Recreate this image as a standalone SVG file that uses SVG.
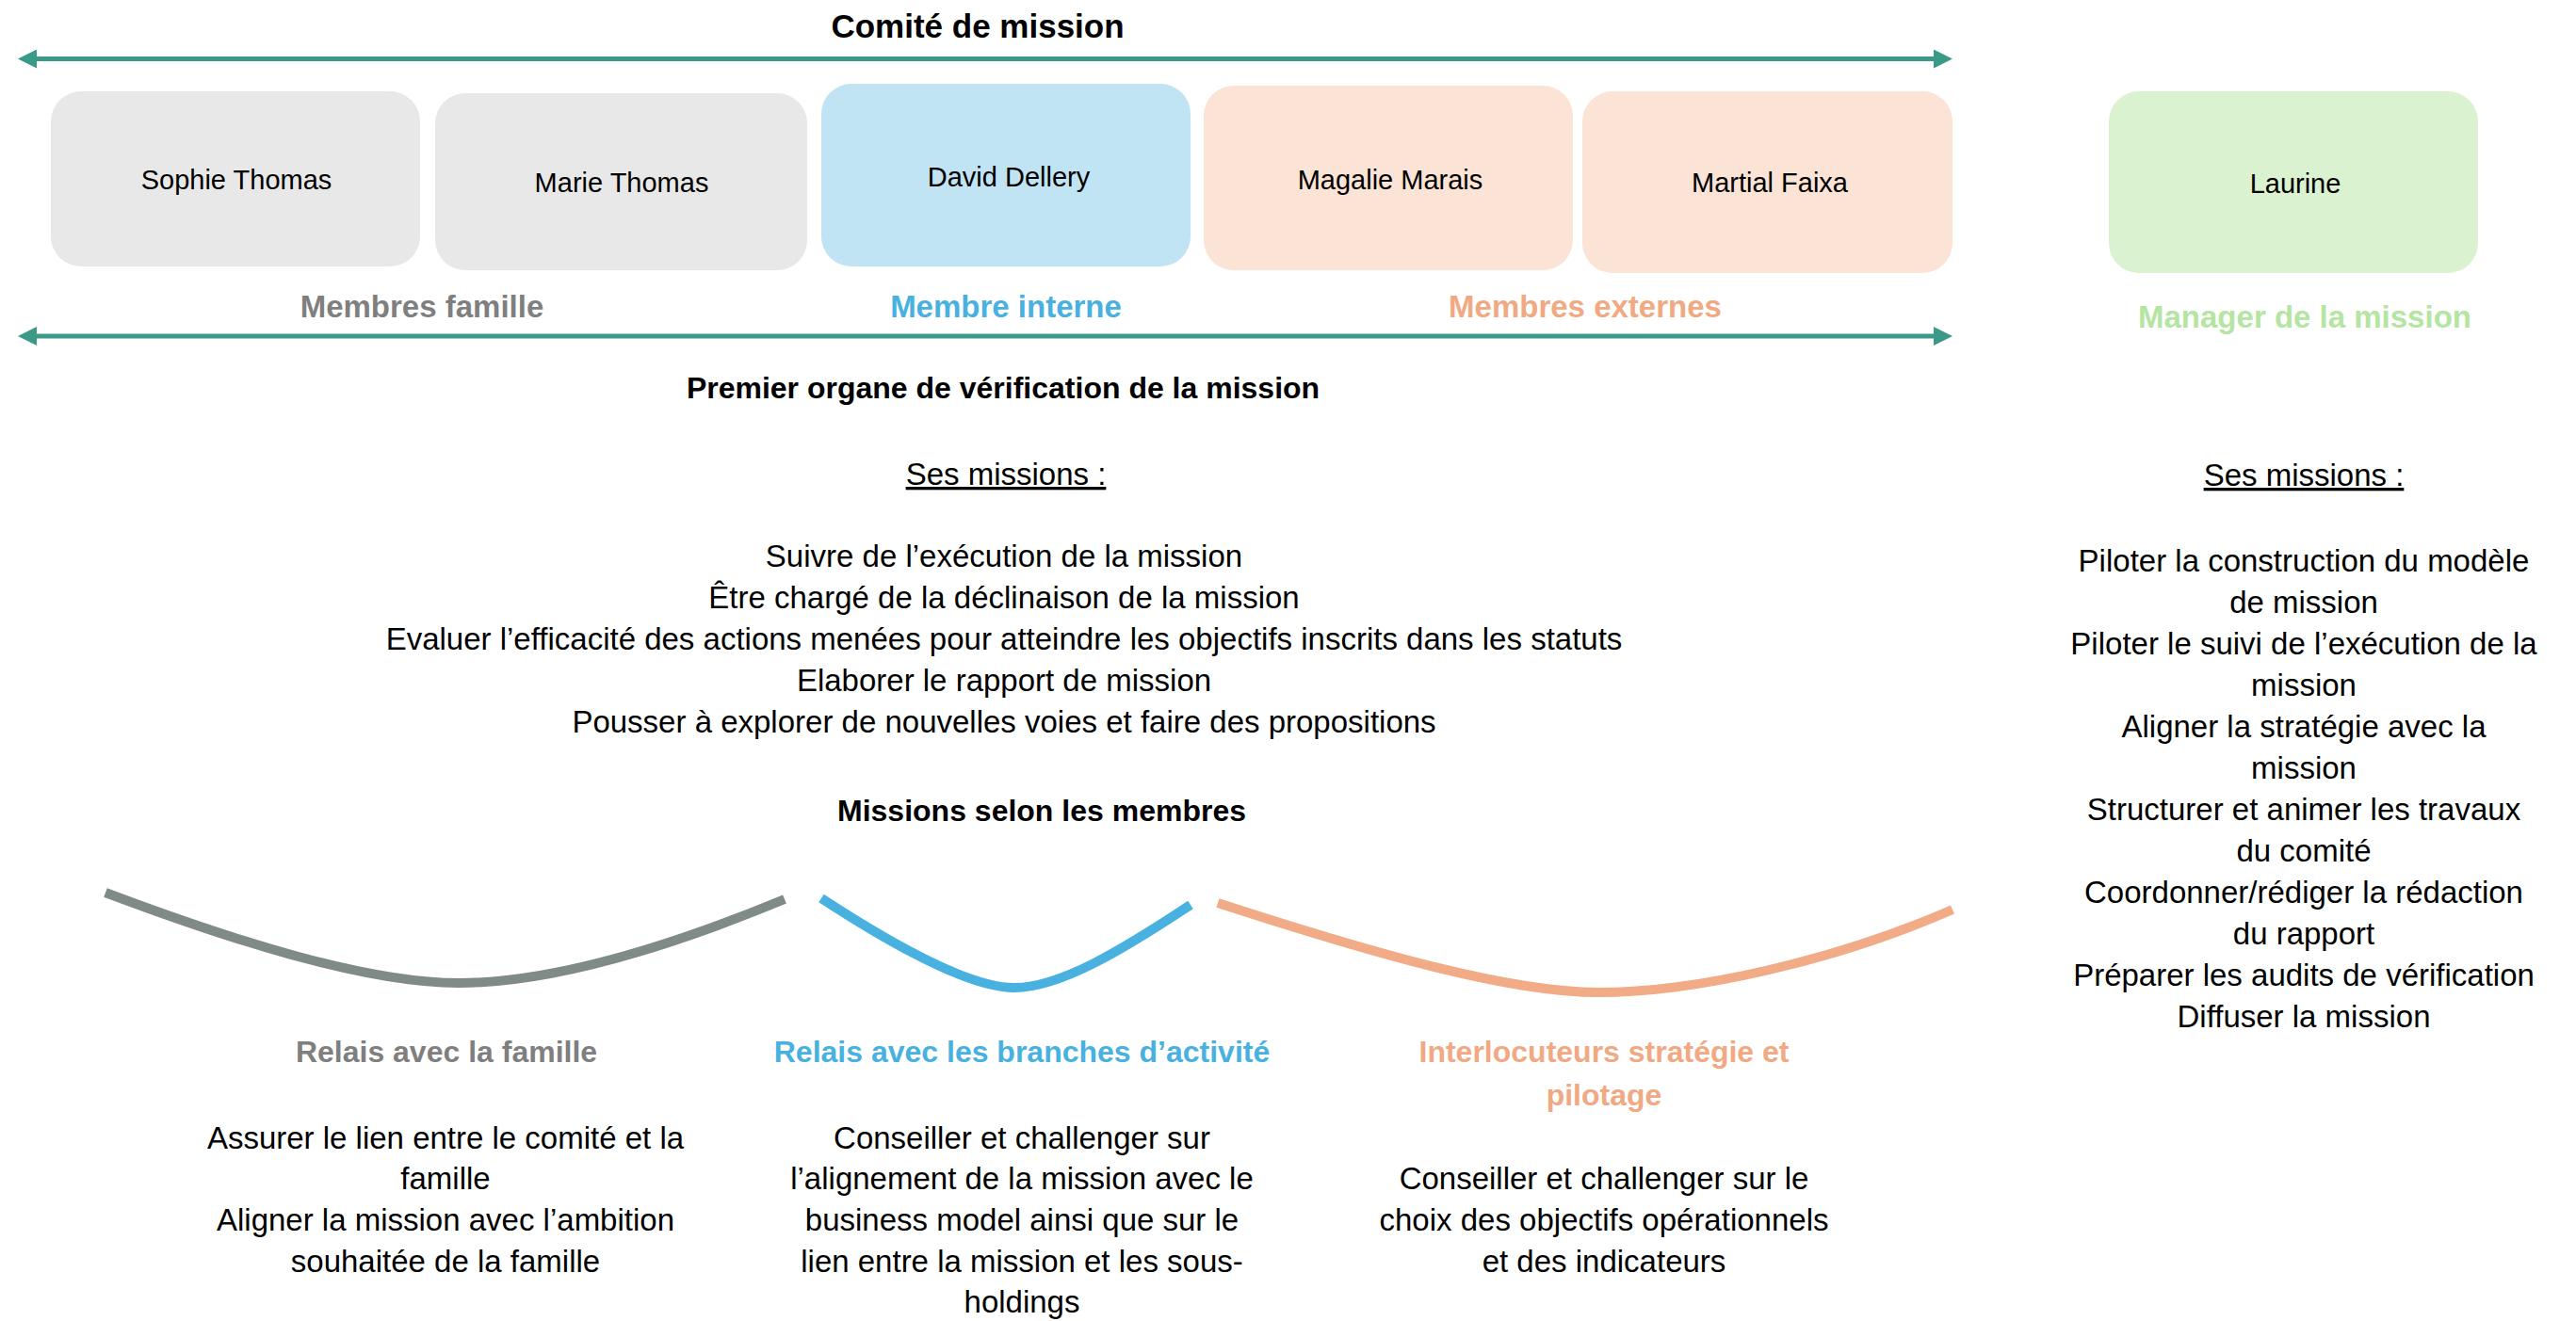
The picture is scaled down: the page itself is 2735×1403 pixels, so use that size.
<svg xmlns="http://www.w3.org/2000/svg" width="2735" height="1403" viewBox="0 0 2735 1403">
  <defs>
    <marker id="arr" viewBox="0 0 20 20" refX="10" refY="10" markerWidth="20" markerHeight="20" markerUnits="userSpaceOnUse" orient="auto-start-reverse">
      <path d="M0,0 L20,10 L0,20 Z" fill="#3b9987"/>
    </marker>
    <style>
      text { font-family: "Liberation Sans", Arial, sans-serif; text-anchor: middle; }
      .name { font-size: 29px; fill: #000; }
      .body { font-size: 33px; fill: #000; }
      .bold { font-size: 32px; font-weight: bold; fill: #000; }
      .title { font-size: 35px; font-weight: bold; fill: #000; }
      .lbl { font-size: 33px; font-weight: bold; }
      .u { text-decoration: underline; }
      .gray { fill: #7f7f7f; }
      .blue { fill: #48b1e0; }
      .orange { fill: #f1a983; }
      .green { fill: #b4e5a2; }
      .box { stroke: none; }
      .arrow { stroke: #3b9987; stroke-width: 5; fill: none; marker-start: url(#arr); marker-end: url(#arr); }
      .curve { fill: none; stroke-width: 10; stroke-linecap: butt; }
    </style>
  </defs>

  <rect x="0" y="0" width="2735" height="1403" fill="#ffffff"/>

  <text class="title" x="1038" y="40">Comité de mission</text>

  <g id="connectors">
    <path class="arrow" d="M29,62.5 L2063,62.5"/>
    <path class="arrow" d="M29,357 L2063,357"/>
  </g>

  <g id="node-sophie">
    <rect class="box" x="54" y="97" width="392" height="186" rx="32" fill="#e8e8e8"/>
    <text class="name" x="251" y="201">Sophie Thomas</text>
  </g>
  <g id="node-marie">
    <rect class="box" x="462" y="99" width="395" height="188" rx="32" fill="#e8e8e8"/>
    <text class="name" x="660" y="204">Marie Thomas</text>
  </g>
  <g id="node-david">
    <rect class="box" x="872" y="89" width="392" height="194" rx="32" fill="#c1e4f5"/>
    <text class="name" x="1071" y="198">David Dellery</text>
  </g>
  <g id="node-magalie">
    <rect class="box" x="1278" y="91" width="392" height="196" rx="32" fill="#fbe3d6"/>
    <text class="name" x="1476" y="201">Magalie Marais</text>
  </g>
  <g id="node-martial">
    <rect class="box" x="1680" y="97" width="393" height="193" rx="32" fill="#fbe3d6"/>
    <text class="name" x="1879" y="204">Martial Faixa</text>
  </g>
  <g id="node-laurine">
    <rect class="box" x="2239" y="97" width="392" height="193" rx="32" fill="#daf2d0"/>
    <text class="name" x="2437" y="205">Laurine</text>
  </g>

  <g id="group-labels">
    <text class="lbl gray" x="448" y="337">Membres famille</text>
    <text class="lbl blue" x="1068" y="337">Membre interne</text>
    <text class="lbl orange" x="1683" y="337">Membres externes</text>
    <text class="lbl green" x="2447" y="348">Manager de la mission</text>
  </g>

  <g id="comite-missions">
    <text class="bold" x="1065" y="423">Premier organe de vérification de la mission</text>
    <text class="body u" x="1068" y="515">Ses missions :</text>
    <text class="body" x="1066" y="602">Suivre de l’exécution de la mission</text>
    <text class="body" x="1066" y="646">Être chargé de la déclinaison de la mission</text>
    <text class="body" x="1066" y="690">Evaluer l’efficacité des actions menées pour atteindre les objectifs inscrits dans les statuts</text>
    <text class="body" x="1066" y="734">Elaborer le rapport de mission</text>
    <text class="body" x="1066" y="778">Pousser à explorer de nouvelles voies et faire des propositions</text>
    <text class="bold" x="1106" y="872">Missions selon les membres</text>
  </g>

  <g id="manager-missions">
    <text class="body u" x="2446" y="516">Ses missions :</text>
    <text class="body" x="2446" y="607">Piloter la construction du modèle</text>
    <text class="body" x="2446" y="651">de mission</text>
    <text class="body" x="2446" y="695">Piloter le suivi de l’exécution de la</text>
    <text class="body" x="2446" y="739">mission</text>
    <text class="body" x="2446" y="783">Aligner la stratégie avec la</text>
    <text class="body" x="2446" y="827">mission</text>
    <text class="body" x="2446" y="871">Structurer et animer les travaux</text>
    <text class="body" x="2446" y="915">du comité</text>
    <text class="body" x="2446" y="959">Coordonner/rédiger la rédaction</text>
    <text class="body" x="2446" y="1003">du rapport</text>
    <text class="body" x="2446" y="1047">Préparer les audits de vérification</text>
    <text class="body" x="2446" y="1091">Diffuser la mission</text>
  </g>

  <g id="curves">
    <path class="curve" stroke="#808a86" d="M112,948 C250,1000 390,1044 487,1044 C585,1044 705,1008 833,955"/>
    <path class="curve" stroke="#48b1e0" d="M872,954 C950,1005 1030,1049 1077,1049 C1125,1049 1190,1010 1264,961"/>
    <path class="curve" stroke="#f1ab86" d="M1293,959 C1450,1010 1600,1054 1697,1054 C1800,1054 1950,1020 2073,966"/>
  </g>

  <g id="famille-role">
    <text class="bold gray" x="474" y="1128">Relais avec la famille</text>
    <text class="body" x="473" y="1220">Assurer le lien entre le comité et la</text>
    <text class="body" x="473" y="1263">famille</text>
    <text class="body" x="473" y="1307">Aligner la mission avec l’ambition</text>
    <text class="body" x="473" y="1351">souhaitée de la famille</text>
  </g>

  <g id="interne-role">
    <text class="bold blue" x="1085" y="1128">Relais avec les branches d’activité</text>
    <text class="body" x="1085" y="1220">Conseiller et challenger sur</text>
    <text class="body" x="1085" y="1263">l’alignement de la mission avec le</text>
    <text class="body" x="1085" y="1307">business model ainsi que sur le</text>
    <text class="body" x="1085" y="1351">lien entre la mission et les sous-</text>
    <text class="body" x="1085" y="1394">holdings</text>
  </g>

  <g id="externes-role">
    <text class="bold orange" x="1703" y="1128">Interlocuteurs stratégie et</text>
    <text class="bold orange" x="1703" y="1174">pilotage</text>
    <text class="body" x="1703" y="1263">Conseiller et challenger sur le</text>
    <text class="body" x="1703" y="1307">choix des objectifs opérationnels</text>
    <text class="body" x="1703" y="1351">et des indicateurs</text>
  </g>
</svg>
